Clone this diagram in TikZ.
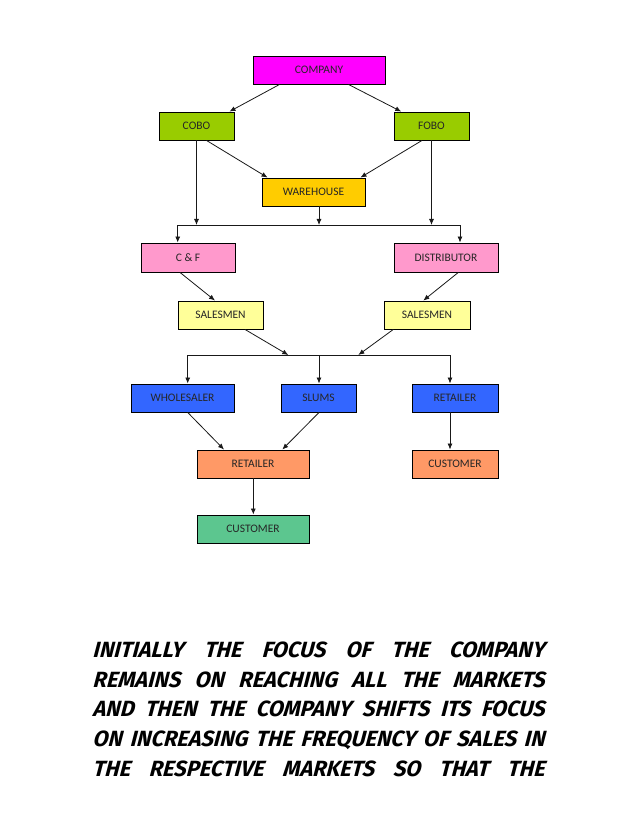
\documentclass[tikz,border=0pt]{standalone}
\usepackage{fontspec}
\setmainfont{Carlito}
\newfontfamily\comicfont[FakeSlant=0.12]{Fira Sans Bold Italic}
\usetikzlibrary{arrows.meta}
\definecolor{cmag}{HTML}{FF00FF}
\definecolor{cgreen}{HTML}{99CC00}
\definecolor{cgold}{HTML}{FFCC00}
\definecolor{cpink}{HTML}{FF99CC}
\definecolor{cyel}{HTML}{FFFF99}
\definecolor{cblue}{HTML}{3366FF}
\definecolor{corange}{HTML}{FF9966}
\definecolor{cteal}{HTML}{5CC68F}
\tikzset{
  boxnode/.style={draw=black, line width=0.9pt, minimum height=28pt, inner sep=0pt,
    font=\fontsize{11.5}{13}\selectfont, text=black!85},
  arr/.style={draw=black!90, line width=0.8pt, -{Latex[length=6pt,width=5pt]}},
  ln/.style={draw=black!90, line width=0.8pt},
  txtline/.style={anchor=base west, inner sep=0pt, font=\comicfont\fontsize{22}{24}\selectfont}
}
\begin{document}
\begin{tikzpicture}[x=1pt,y=-1pt]
\useasboundingbox (0,0) rectangle (638,826);
\fill[white] (0,0) rectangle (638,826);
% boxes
\node[boxnode, fill=cmag, minimum width=132pt] (company) at (319,70) {COMPANY};
\node[boxnode, fill=cgreen, minimum width=75pt] (cobo) at (196.5,126) {COBO};
\node[boxnode, fill=cgreen, minimum width=75pt] (fobo) at (431.5,126) {FOBO};
\node[boxnode, fill=cgold, minimum width=103pt] (wh) at (313.5,192) {WAREHOUSE};
\node[boxnode, fill=cpink, minimum width=94pt, minimum height=29pt] (cf) at (188,257.5) {C \& F};
\node[boxnode, fill=cpink, minimum width=104pt, minimum height=29pt] (dist) at (446,257.5) {DISTRIBUTOR};
\node[boxnode, fill=cyel, minimum width=85pt] (sml) at (220.5,315) {SALESMEN};
\node[boxnode, fill=cyel, minimum width=86pt] (smr) at (427,315) {SALESMEN};
\node[boxnode, fill=cblue, minimum width=103pt] (ws) at (182.5,398) {WHOLESALER};
\node[boxnode, fill=cblue, minimum width=75pt] (slums) at (318.5,398) {SLUMS};
\node[boxnode, fill=cblue, minimum width=86pt] (rr) at (455,398) {RETAILER};
\node[boxnode, fill=corange, minimum width=112pt] (rm) at (253,464) {RETAILER};
\node[boxnode, fill=corange, minimum width=86pt] (cr) at (455,464) {CUSTOMER};
\node[boxnode, fill=cteal, minimum width=112pt] (cb) at (253,529) {CUSTOMER};
% bus coordinates
\coordinate (b1l) at (177.7,225);
\coordinate (b1r) at (460,225);
\coordinate (j2l) at (288.3,355);
\coordinate (j2r) at (358.3,355);
\coordinate (b2l) at (187.7,355);
\coordinate (b2r) at (450,355);
% connectors
\draw[arr] ([xshift=27pt]company.south west) -- ([xshift=-5pt]cobo.north east);
\draw[arr] ([xshift=-37pt]company.south east) -- ([xshift=7.7pt]fobo.north west);
\draw[arr] ([xshift=10pt]cobo.south) -- ([xshift=6pt]wh.north west);
\draw[arr] ([xshift=-9.5pt]fobo.south) -- ([xshift=-5pt]wh.north east);
\draw[arr] (cobo.south) -- (cobo.south |- b1l);
\draw[arr] ([xshift=5.5pt]wh.south) -- ([xshift=5.5pt]wh.south |- b1l);
\draw[arr] (fobo.south) -- (fobo.south |- b1l);
\draw[ln] (b1l) -- (b1r);
\draw[arr] (b1l) -- (b1l |- cf.north);
\draw[arr] (b1r) -- (b1r |- dist.north);
\draw[arr] ([xshift=-8pt]cf.south) -- ([xshift=-5.5pt]sml.north);
\draw[arr] ([xshift=12.3pt]dist.south) -- ([xshift=-3.7pt]smr.north);
\draw[arr] ([xshift=24.5pt]sml.south) -- (j2l);
\draw[arr] ([xshift=-33.7pt]smr.south) -- (j2r);
\draw[ln] (b2l) -- (b2r);
\draw[arr] (b2l) -- (b2l |- ws.north);
\draw[arr] ([xshift=0.5pt]slums.north |- b2l) -- ([xshift=0.5pt]slums.north);
\draw[arr] (b2r) -- (b2r |- rr.north);
\draw[arr] ([xshift=5.2pt]ws.south) -- ([xshift=-29pt]rm.north);
\draw[arr] ([xshift=0.5pt]slums.south) -- ([xshift=29.3pt]rm.north);
\draw[arr] ([xshift=0.3pt]rm.south) -- ([xshift=0.3pt]cb.north);
\draw[arr] ([xshift=-5pt]rr.south) -- ([xshift=-5pt]cr.north);
% bottom text
\node[txtline] (t1) at (93,657) {\makebox[452pt][s]{INITIALLY THE FOCUS OF THE COMPANY}};
\node[txtline] (t2) at (93,687) {\makebox[452pt][s]{REMAINS ON REACHING ALL THE MARKETS}};
\node[txtline] (t3) at (93,716) {\makebox[452pt][s]{AND THEN THE COMPANY SHIFTS ITS FOCUS}};
\node[txtline] (t4) at (93,746) {\makebox[452pt][s]{ON INCREASING THE FREQUENCY OF SALES IN}};
\node[txtline] (t5) at (93,776) {\makebox[452pt][s]{THE RESPECTIVE MARKETS SO THAT THE}};
\end{tikzpicture}
\end{document}
